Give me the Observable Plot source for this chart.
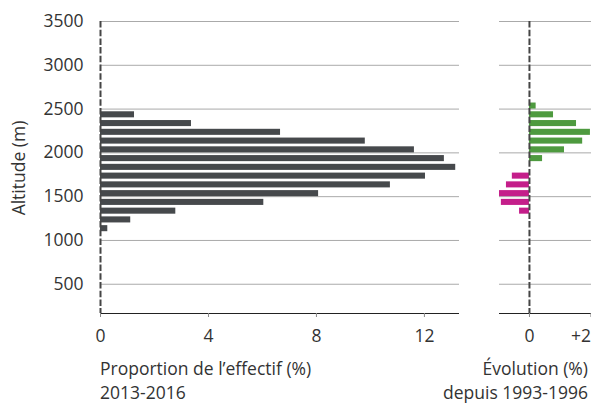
<!DOCTYPE html>
<html>
<head>
<meta charset="utf-8">
<script src="https://cdn.jsdelivr.net/npm/d3@7"></script>
<script src="https://cdn.jsdelivr.net/npm/@observablehq/plot@0.6"></script>
<style>
  html, body { margin: 0; padding: 0; background: #fff; }
  #wrap { position: relative; width: 591px; height: 405px; font-family: "Open Sans", sans-serif; color: #333; overflow: hidden; }
  #wrap svg { position: absolute; top: 0; overflow: visible; }
  .cap { position: absolute; font-size: 17.5px; line-height: 23.5px; color: #333; white-space: nowrap; }
</style>
</head>
<body>
<div id="wrap"></div>
<script>
// Altitude bins (lower bound, m) and share of the population 2013-2016 (%)
const propAltitude = [2400, 2300, 2200, 2100, 2000, 1900, 1800, 1700, 1600, 1500, 1400, 1300, 1200, 1100];
const propValues   = [1.26, 3.37, 6.67, 9.81, 11.63, 12.74, 13.16, 12.04, 10.74, 8.08, 6.05, 2.79, 1.12, 0.27];

// Change since 1993-1996 (percentage points)
const evoAltitude = [2500, 2400, 2300, 2200, 2100, 2000, 1900, 1700, 1600, 1500, 1400, 1300];
const evoValues   = [0.25, 0.90, 1.76, 2.28, 1.99, 1.31, 0.49, -0.64, -0.86, -1.12, -1.05, -0.37];

const yTicks = [500, 1000, 1500, 2000, 2500, 3000, 3500];
const xTicksLeft = [0, 4, 8, 12];
const binSize = 100;

const propData = propAltitude.map((a, i) => ({lo: a, hi: a + binSize, value: propValues[i]}));
const evoData = evoAltitude.map((a, i) => ({lo: a, hi: a + binSize, value: evoValues[i]}));

const yDomain = [166, 3500];
const common = {
  height: 345, marginTop: 21, marginBottom: 32,
  style: {fontFamily: "Open Sans", fontSize: "17.5px", color: "#333", background: "transparent", overflow: "visible"}
};

const left = Plot.plot({
  ...common,
  width: 470, marginLeft: 100, marginRight: 11,
  x: {domain: [0, 13.3]},
  y: {domain: yDomain},
  marks: [
    Plot.gridY(yTicks, {stroke: "#aaa", strokeOpacity: 1}),
    Plot.rectX(propData, {x1: 0, x2: "value", y1: "lo", y2: "hi", insetTop: 2.7, fill: "#46494c"}),
    Plot.ruleY([yDomain[0]], {stroke: "#222"}),
    Plot.ruleX([0], {stroke: "#454545", strokeWidth: 2, strokeDasharray: "6.5,2.2"}),
    Plot.axisX(xTicksLeft, {tickSize: 4, tickPadding: 12, stroke: "#888", label: null}),
    Plot.axisY(yTicks, {tickSize: 0, tickPadding: 17, label: null, tickFormat: d => String(d)})
  ]
});
left.style.left = "0px";
d3.select(left).append("text")
  .attr("transform", "translate(19,168) rotate(-90)")
  .attr("text-anchor", "middle")
  .attr("dy", "0.35em")
  .attr("fill", "#333")
  .attr("font-size", "17.5px")
  .attr("font-family", "Open Sans")
  .text("Altitude (m)");

const right = Plot.plot({
  ...common,
  width: 111, marginLeft: 19, marginRight: 0,
  x: {domain: [-1.12, 2.32]},
  y: {domain: yDomain, axis: null},
  marks: [
    Plot.gridY(yTicks, {stroke: "#aaa", strokeOpacity: 1}),
    Plot.rectX(evoData, {filter: d => d.value > 0, x1: 0, x2: "value", y1: "lo", y2: "hi", insetTop: 2.7, fill: "#4e9a3f"}),
    Plot.rectX(evoData, {filter: d => d.value < 0, x1: 0, x2: "value", y1: "lo", y2: "hi", insetTop: 2.7, fill: "#c41e8a"}),
    Plot.ruleY([yDomain[0]], {stroke: "#222"}),
    Plot.ruleX([0], {stroke: "#454545", strokeWidth: 2, strokeDasharray: "6.5,2.2"}),
    Plot.axisX([0], {tickSize: 4, tickPadding: 12, stroke: "#888", label: null}),
    Plot.axisX([2], {tickSize: 4, tickPadding: 12, stroke: "#888", label: null, textAnchor: "end", dx: 8,
      tickFormat: d => "+" + d})
  ]
});
right.style.left = "480px";

const wrap = document.getElementById("wrap");
wrap.appendChild(left);
wrap.appendChild(right);

const capL = document.createElement("div");
capL.className = "cap";
capL.style.left = "100px";
capL.style.top = "357px";
capL.innerHTML = "Proportion de l’effectif (%)<br>2013-2016";
wrap.appendChild(capL);

const capR = document.createElement("div");
capR.className = "cap";
capR.style.right = "3px";
capR.style.top = "357px";
capR.style.textAlign = "right";
capR.innerHTML = "Évolution (%)<br>depuis 1993-1996";
wrap.appendChild(capR);
</script>
</body>
</html>
